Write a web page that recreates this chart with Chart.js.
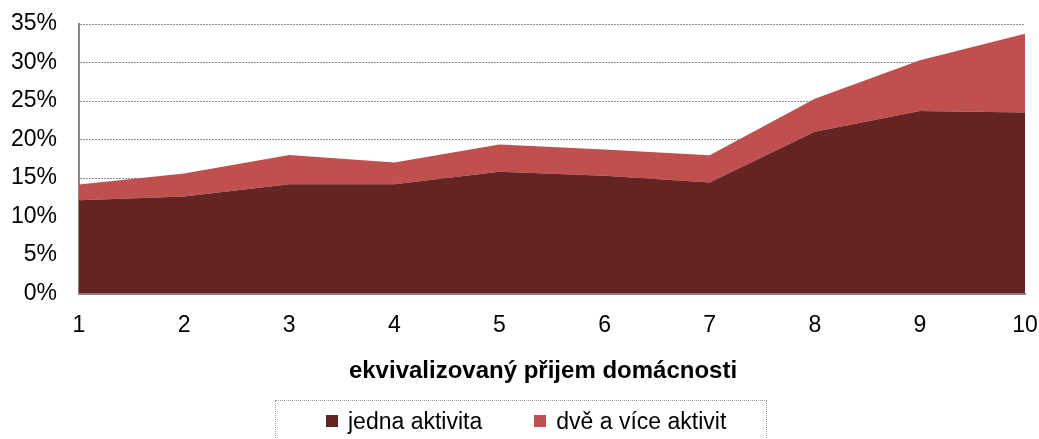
<!DOCTYPE html>
<html>
<head>
<meta charset="utf-8">
<script src="https://cdn.jsdelivr.net/npm/chart.js@4"></script>
<style>
  html, body { margin: 0; padding: 0; background: #fff; overflow: hidden; }
  #wrap { position: relative; width: 1039px; height: 439px; }
  #xtitle {
    position: absolute; left: 543px; top: 358px; transform: translateX(-50%);
    white-space: nowrap; font-family: 'Liberation Sans', Arial, sans-serif;
    font-weight: bold; font-size: 24px; line-height: 24px; color: #000;
  }
  #legend {
    position: absolute; left: 275px; top: 400px; width: 492px; height: 60px;
    box-sizing: border-box; border: 1px dotted #9a9a9a;
    font-family: 'Liberation Sans', Arial, sans-serif; font-size: 23px; color: #000;
  }
  #legend .row { position: absolute; left: 50px; top: 0; height: 40px; display: flex; align-items: center; }
  #legend .item { display: flex; align-items: center; }
  #legend .sw { width: 12px; height: 12px; margin-right: 10px; }
</style>
</head>
<body>
<div id="wrap">
  <canvas id="c" width="1039" height="439"></canvas>
  <div id="xtitle"></div>
  <div id="legend"><div class="row" id="legendRow"></div></div>
</div>
<script>
const categories = ['1', '2', '3', '4', '5', '6', '7', '8', '9', '10'];
const seriesNames = ['jedna aktivita', 'dvě a více aktivit'];
const jednaAktivita = [12.1, 12.6, 14.2, 14.2, 15.8, 15.3, 14.4, 21.0, 23.7, 23.5];
const dveAViceAktivit = [2.05, 3.0, 3.8, 2.8, 3.55, 3.4, 3.55, 4.3, 6.6, 10.25];
const yTicks = [0, 5, 10, 15, 20, 25, 30, 35];
const colors = ['#632423', '#C0504D'];
const xTitle = 'ekvivalizovaný přijem domácnosti';

const FONT = "'Liberation Sans', Arial, sans-serif";

const chart = new Chart(document.getElementById('c'), {
  type: 'line',
  data: {
    labels: categories,
    datasets: [
      { label: seriesNames[0], data: jednaAktivita, backgroundColor: colors[0], borderColor: colors[0],
        borderWidth: 0, pointRadius: 0, fill: 'origin', tension: 0 },
      { label: seriesNames[1], data: dveAViceAktivit, backgroundColor: colors[1], borderColor: colors[1],
        borderWidth: 0, pointRadius: 0, fill: '-1', tension: 0 }
    ]
  },
  options: {
    responsive: false,
    animation: false,
    layout: { padding: { top: 24, right: 14, left: 0, bottom: 0 } },
    plugins: { legend: { display: false }, tooltip: { enabled: false } },
    scales: {
      x: {
        type: 'category',
        offset: false,
        afterFit: (s) => { s.height = 145.5; s.paddingLeft = 0; s.paddingRight = 0; },
        grid: { display: false, drawTicks: false },
        border: { display: true, color: '#868686', width: 2 },
        ticks: { color: '#000', font: { family: FONT, size: 23 }, padding: 18, maxRotation: 0 }
      },
      y: {
        stacked: true,
        min: 0, max: 35,
        afterFit: (s) => { s.width = 79; s.paddingTop = 0; s.paddingBottom = 0; },
        afterBuildTicks: (s) => { s.ticks = yTicks.map(v => ({ value: v })); },
        grid: { color: '#8c8c8c', lineWidth: 1, drawTicks: false },
        border: { display: true, color: '#868686', width: 2, dash: [2, 1] },
        ticks: { color: '#000', font: { family: FONT, size: 23 }, padding: 22,
                 callback: (v) => v + '%' }
      }
    }
  }
});

document.getElementById('xtitle').textContent = xTitle;

// HTML legend from the datasets
const row = document.getElementById('legendRow');
chart.data.datasets.forEach((ds, i) => {
  const item = document.createElement('div');
  item.className = 'item';
  if (i > 0) item.style.marginLeft = '52px';
  const sw = document.createElement('span');
  sw.className = 'sw';
  sw.style.background = ds.backgroundColor;
  const tx = document.createElement('span');
  tx.textContent = ds.label;
  item.appendChild(sw); item.appendChild(tx);
  row.appendChild(item);
});
</script>
</body>
</html>
